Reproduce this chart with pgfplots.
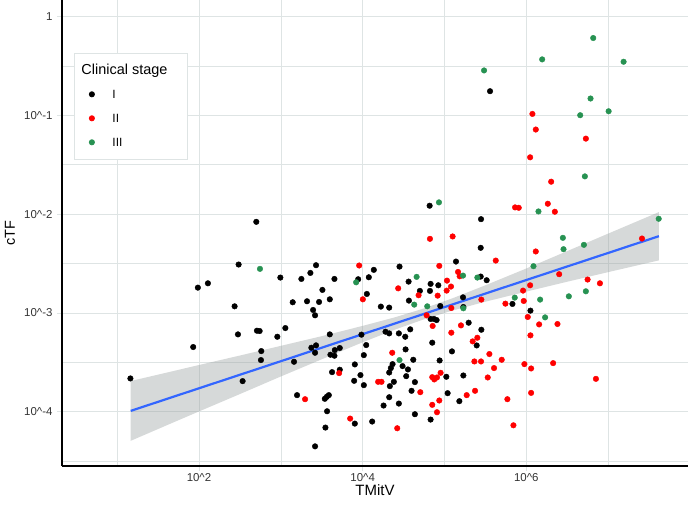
\documentclass[border=0pt]{standalone}
\usepackage{fontspec}
\setmainfont{Liberation Sans}
\usepackage{pgfplots}
\pgfplotsset{compat=1.18}
\usepackage{pgfplotstable}
\definecolor{stgI}{RGB}{0,0,0}
\definecolor{stgII}{RGB}{255,0,0}
\definecolor{stgIII}{RGB}{39,146,82}
\definecolor{gridc}{RGB}{222,228,228}
\definecolor{fitc}{RGB}{51,102,255}
\definecolor{bandc}{RGB}{153,160,160}

% log10(TMitV)  log10(cTF)
\pgfplotstableread{
x y
2.700 -2.078
2.484 -2.510
1.986 -2.744
2.109 -2.700
2.435 -2.933
2.994 -2.642
3.251 -2.656
3.361 -2.595
3.430 -2.517
3.508 -2.767
3.655 -2.656
3.145 -2.892
3.320 -2.882
3.467 -2.889
3.598 -2.862
3.394 -2.970
3.418 -3.024
2.476 -3.217
2.708 -3.180
2.741 -3.183
3.055 -3.153
2.957 -3.241
1.929 -3.345
2.761 -3.386
2.757 -3.477
2.533 -3.690
3.161 -3.494
1.162 -3.663
3.373 -3.352
3.430 -3.328
3.418 -3.403
3.598 -3.217
3.606 -3.423
3.659 -3.376
3.720 -3.355
3.655 -3.433
3.626 -3.599
3.720 -3.575
3.904 -3.521
3.973 -3.629
3.896 -3.687
4.014 -3.731
3.985 -3.220
4.043 -3.325
4.014 -3.427
3.198 -3.832
3.537 -3.869
3.561 -3.849
3.586 -3.832
3.565 -3.995
3.545 -4.160
3.904 -4.120
4.116 -4.099
3.418 -4.350
3.945 -2.659
4.075 -2.639
4.136 -2.564
4.051 -2.808
4.222 -2.936
4.324 -2.946
4.279 -3.190
4.324 -3.207
4.442 -3.207
4.450 -2.531
4.365 -3.518
4.344 -3.558
4.324 -3.603
4.381 -3.697
4.332 -3.741
4.324 -3.853
4.255 -3.937
4.442 -3.917
4.818 -1.915
5.446 -2.051
5.442 -2.341
5.140 -2.480
4.561 -2.683
4.699 -2.777
4.830 -2.706
4.924 -2.720
4.822 -2.777
4.565 -2.875
5.442 -2.632
5.515 -2.669
5.226 -2.842
4.948 -2.930
5.230 -2.940
4.830 -3.061
4.871 -3.061
4.903 -3.072
5.295 -3.099
5.450 -3.170
4.581 -3.166
4.520 -3.241
4.850 -3.301
4.524 -3.369
5.393 -3.329
5.091 -3.389
4.618 -3.474
4.487 -3.538
4.553 -3.572
4.940 -3.481
4.532 -3.640
4.638 -3.700
5.022 -3.646
5.230 -3.633
4.597 -3.788
5.038 -3.812
5.181 -3.893
4.638 -4.025
4.830 -4.079
5.830 -2.909
6.050 -2.977
5.556 -0.756
}\stageI

\pgfplotstableread{
x y
3.957 -2.520
4.002 -2.862
4.434 -2.751
4.361 -3.403
3.712 -3.609
4.189 -3.697
4.230 -3.697
3.296 -3.873
3.847 -4.069
4.422 -4.167
6.046 -1.425
6.303 -1.672
6.262 -1.895
6.348 -1.976
5.862 -1.932
5.907 -1.936
4.822 -2.250
5.099 -2.226
5.626 -2.470
6.115 -2.378
4.936 -2.524
5.165 -2.585
5.185 -2.629
5.030 -2.673
5.079 -2.733
5.026 -2.774
4.683 -2.821
4.916 -2.825
4.781 -3.024
5.083 -2.950
5.450 -2.865
5.960 -2.774
6.046 -2.720
6.401 -2.608
7.413 -2.247
5.744 -2.906
5.968 -2.879
6.748 -2.662
6.899 -2.700
6.017 -3.041
6.156 -3.116
6.380 -3.112
6.050 -3.227
4.855 -3.132
5.201 -3.126
5.083 -3.200
5.401 -3.251
5.344 -3.288
5.548 -3.416
5.365 -3.491
5.446 -3.491
5.699 -3.474
5.605 -3.558
5.528 -3.653
5.976 -3.518
6.058 -3.562
6.327 -3.508
6.850 -3.667
4.850 -3.650
4.875 -3.673
4.908 -3.653
4.952 -3.606
4.704 -3.802
4.936 -3.886
4.850 -3.930
4.908 -4.005
5.271 -3.832
5.373 -3.788
5.768 -3.873
6.058 -3.809
5.842 -4.137
6.074 -0.986
6.115 -1.144
6.727 -1.236
}\stageII

\pgfplotstableread{
x y
2.745 -2.554
3.920 -2.690
4.450 -3.477
4.932 -1.881
4.659 -2.635
4.630 -2.916
4.789 -2.933
5.226 -2.622
5.401 -2.642
5.230 -2.953
6.087 -2.527
5.858 -2.845
6.168 -2.865
6.229 -3.045
6.446 -2.240
6.454 -2.355
6.703 -2.311
6.519 -2.832
6.727 -2.781
7.617 -2.047
6.148 -1.973
6.715 -1.618
6.817 -0.218
6.193 -0.434
7.188 -0.458
5.483 -0.546
6.784 -0.830
7.005 -0.959
6.658 -0.999
}\stageIII

% confidence band: upper edge left->right, lower edge right->left
\pgfplotstableread{
x y
1.166 -3.689
1.6 -3.605
2.0 -3.527
2.5 -3.431
3.0 -3.333
3.5 -3.235
4.0 -3.131
4.4 -3.043
4.75 -2.954
5.1 -2.851
5.5 -2.720
6.0 -2.550
6.5 -2.374
7.0 -2.197
7.62 -1.979
7.62 -2.468
7.0 -2.587
6.5 -2.684
6.0 -2.784
5.5 -2.886
5.1 -2.975
4.75 -3.064
4.4 -3.167
4.0 -3.297
3.5 -3.469
3.0 -3.643
2.5 -3.821
2.0 -3.997
1.6 -4.139
1.166 -4.294
}\band

\begin{document}
\begin{tikzpicture}
\path[use as bounding box] (0,0) rectangle (688bp,507bp);
\begin{axis}[
  at={(62bp,41bp)}, anchor=south west,
  scale only axis, width=626bp, height=466bp,
  xmin=0.326, xmax=7.975, ymin=-4.549, ymax=0.167,
  axis x line*=bottom, axis y line*=left,
  axis line style={-, line width=1.1bp, black},
  xtick={2,4,6}, xticklabels={10\textasciicircum 2,10\textasciicircum 4,10\textasciicircum 6},
  minor xtick={1,3,5,7},
  ytick={-4,-3,-2,-1,0},
  yticklabels={10\textasciicircum-4,10\textasciicircum-3,10\textasciicircum-2,10\textasciicircum-1,1},
  minor ytick={-4.5,-3.5,-2.5,-1.5,-0.5},
  grid=both,
  major grid style={gridc, line width=0.8bp},
  minor grid style={gridc, line width=0.6bp},
  tick align=outside, major tick length=5bp, minor tick length=0pt,
  tick style={gridc, line width=0.8bp},
  ticklabel style={font=\fontsize{11.5}{13}\selectfont, text=black!80},
  xticklabel style={yshift=1bp},
  yticklabel style={xshift=-1bp},
  xlabel={TMitV}, ylabel={cTF},
  xlabel style={font=\fontsize{15}{17}\selectfont, at={([yshift=-24bp]axis description cs:0.5,0)}, anchor=center},
  ylabel style={font=\fontsize{14.5}{17}\selectfont, at={([xshift=-52bp]axis description cs:0,0.5)}, anchor=center},
  legend cell align=left,
  legend style={at={(axis description cs:0.019,0.887)}, anchor=north west,
    draw=gridc, line width=0.8bp, fill=white,
    font=\fontsize{12}{14}\selectfont,
    nodes={text height=10.5bp, text depth=3bp, inner ysep=2bp},
    inner xsep=15bp, inner ysep=8.5bp, row sep=6.5bp, column sep=16bp},
  legend image code/.code={\draw[#1, mark size=2.6bp] plot coordinates {(0bp,0bp)};},
  every axis plot/.append style={only marks, mark=*, mark size=2.8bp},
  clip=true,
]
\addlegendimage{empty legend}
\addlegendentry{\hspace*{-31bp}\fontsize{14.5}{16}\selectfont Clinical stage\hspace*{3bp}}
\addplot[color=stgI, mark options={fill=stgI, draw=stgI}] table {\stageI};
\addlegendentry{I}
\addplot[color=stgII, mark options={fill=stgII, draw=stgII}] table {\stageII};
\addlegendentry{II}
\addplot[color=stgIII, mark options={fill=stgIII, draw=stgIII}] table {\stageIII};
\addlegendentry{III}
\addplot[forget plot, no marks, sharp plot, draw=none, fill=bandc, fill opacity=0.4] table {\band} -- cycle;
\addplot[forget plot, no marks, sharp plot, fitc, line width=2.2bp] coordinates {(1.166,-3.991) (7.62,-2.223)};
\end{axis}
\end{tikzpicture}
\end{document}
